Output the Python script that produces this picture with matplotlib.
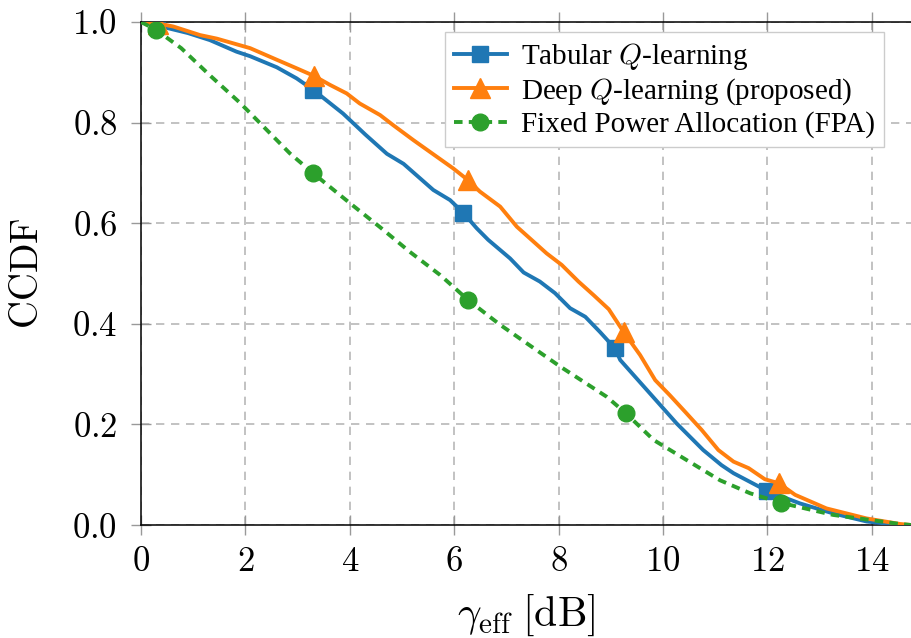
import matplotlib
matplotlib.use("Agg")
import matplotlib.pyplot as plt
import numpy as np
from matplotlib.ticker import FuncFormatter

# CCDF curves
tab_x = [0.0, 0.31, 0.9, 1.32, 1.83, 2.09, 2.6, 2.98, 3.3, 3.87, 4.3, 4.71, 5.03, 5.6,
         5.92, 6.17, 6.43, 6.65, 7.07, 7.33, 7.64, 7.93, 8.22, 8.51, 8.79, 9.08, 9.18,
         9.66, 10.26, 10.77, 11.12, 11.35, 11.99, 12.62, 13.26, 13.9, 14.54, 14.75]
tab_y = [1.0, 0.993, 0.978, 0.964, 0.941, 0.932, 0.91, 0.888, 0.865, 0.818, 0.776, 0.738,
         0.718, 0.666, 0.646, 0.621, 0.59, 0.567, 0.53, 0.502, 0.484, 0.461, 0.431, 0.414,
         0.384, 0.351, 0.328, 0.272, 0.202, 0.149, 0.119, 0.103, 0.068, 0.043, 0.023,
         0.007, 0.0, 0.0]
tab_marks = [1, 8, 15, 25, 32]

deep_x = [0.0, 0.33, 0.62, 1.13, 1.45, 2.09, 2.6, 2.98, 3.31, 3.62, 3.94, 4.19, 4.58,
          4.83, 5.22, 5.6, 5.98, 6.26, 6.49, 6.88, 7.2, 7.48, 7.77, 8.06, 8.38, 8.67,
          8.96, 9.25, 9.56, 9.85, 10.13, 10.45, 10.74, 11.06, 11.35, 11.64, 11.95, 12.22,
          12.53, 13.13, 13.9, 14.54, 14.75]
deep_y = [1.0, 0.997, 0.991, 0.974, 0.967, 0.948, 0.925, 0.908, 0.893, 0.875, 0.858,
          0.838, 0.815, 0.795, 0.765, 0.737, 0.709, 0.686, 0.663, 0.633, 0.593, 0.567,
          0.54, 0.517, 0.484, 0.457, 0.429, 0.383, 0.338, 0.288, 0.258, 0.222, 0.189,
          0.149, 0.126, 0.113, 0.091, 0.083, 0.06, 0.033, 0.013, 0.002, 0.0]
deep_marks = [1, 8, 17, 27, 37]

fpa_x = [0.0, 0.28, 0.77, 1.34, 1.9, 2.85, 3.29, 4.0, 4.58, 5.15, 5.73, 6.27, 6.88,
         8.03, 8.92, 9.29, 9.82, 10.39, 11.09, 11.67, 12.26, 13.26, 14.54, 14.75]
fpa_y = [1.0, 0.985, 0.948, 0.892, 0.839, 0.739, 0.70, 0.64, 0.592, 0.543, 0.497,
         0.447, 0.398, 0.315, 0.255, 0.222, 0.169, 0.133, 0.089, 0.063, 0.044, 0.02,
         0.002, 0.0]
fpa_marks = [1, 6, 11, 15, 20]

labels = [r"Tabular $Q$-learning", r"Deep $Q$-learning (proposed)",
          "Fixed Power Allocation (FPA)"]

x_ticks = [0, 2, 4, 6, 8, 10, 12, 14]
y_ticks = [0.0, 0.2, 0.4, 0.6, 0.8, 1.0]


def main():
    plt.rcParams["font.family"] = ["Liberation Serif", "DejaVu Serif"]
    plt.rcParams["mathtext.fontset"] = "cm"

    fig = plt.figure(figsize=(9.11, 6.38), dpi=100)
    ax = fig.add_axes([141 / 911, 113 / 638, 770 / 911, 503 / 638])

    ax.plot(tab_x, tab_y, color="#1f77b4", lw=2.8, marker="s", ms=12,
            markevery=tab_marks, label=labels[0], zorder=3)
    ax.plot(deep_x, deep_y, color="#ff7f0e", lw=2.8, marker="^", ms=14,
            markevery=deep_marks, label=labels[1], zorder=3)
    ax.plot(fpa_x, fpa_y, color="#2ca02c", lw=2.8, ls=(0, (2.2, 1.6)), marker="o",
            ms=12, markevery=fpa_marks, label=labels[2], zorder=3)

    ax.set_xlim(0, 14.75)
    ax.set_ylim(0, 1.0)
    ax.set_xticks(x_ticks)
    ax.set_yticks(y_ticks)
    ax.xaxis.set_major_formatter(FuncFormatter(lambda v, p: r"$%d$" % v))
    ax.yaxis.set_major_formatter(FuncFormatter(lambda v, p: r"$%.1f$" % v))
    ax.tick_params(labelsize=25, direction="inout", length=14, width=1,
                   color="#999999", top=True)
    ax.tick_params(axis="y", pad=10)
    ax.tick_params(axis="x", pad=8)
    ax.grid(True, color="#b8b8b8", ls=(0, (5, 4)), lw=1.2)
    ax.spines["right"].set_visible(False)
    for s in ["left", "bottom", "top"]:
        ax.spines[s].set_linewidth(1.1)

    ax.set_ylabel(r"$\mathrm{CCDF}$", fontsize=28, labelpad=18)
    ax.set_xlabel(r"$\gamma_{\mathrm{eff}}$ $\mathrm{[dB]}$", fontsize=30, labelpad=10)

    leg = ax.legend(loc="upper right", bbox_to_anchor=(0.965, 0.98), fontsize=21,
                    fancybox=False, framealpha=1, edgecolor="#cccccc",
                    handlelength=1.8, handletextpad=0.5, borderpad=0.3,
                    labelspacing=0.15, borderaxespad=0.0)
    leg.get_frame().set_linewidth(1.0)

    fig.savefig("out.png", dpi=100)


if __name__ == "__main__":
    main()
